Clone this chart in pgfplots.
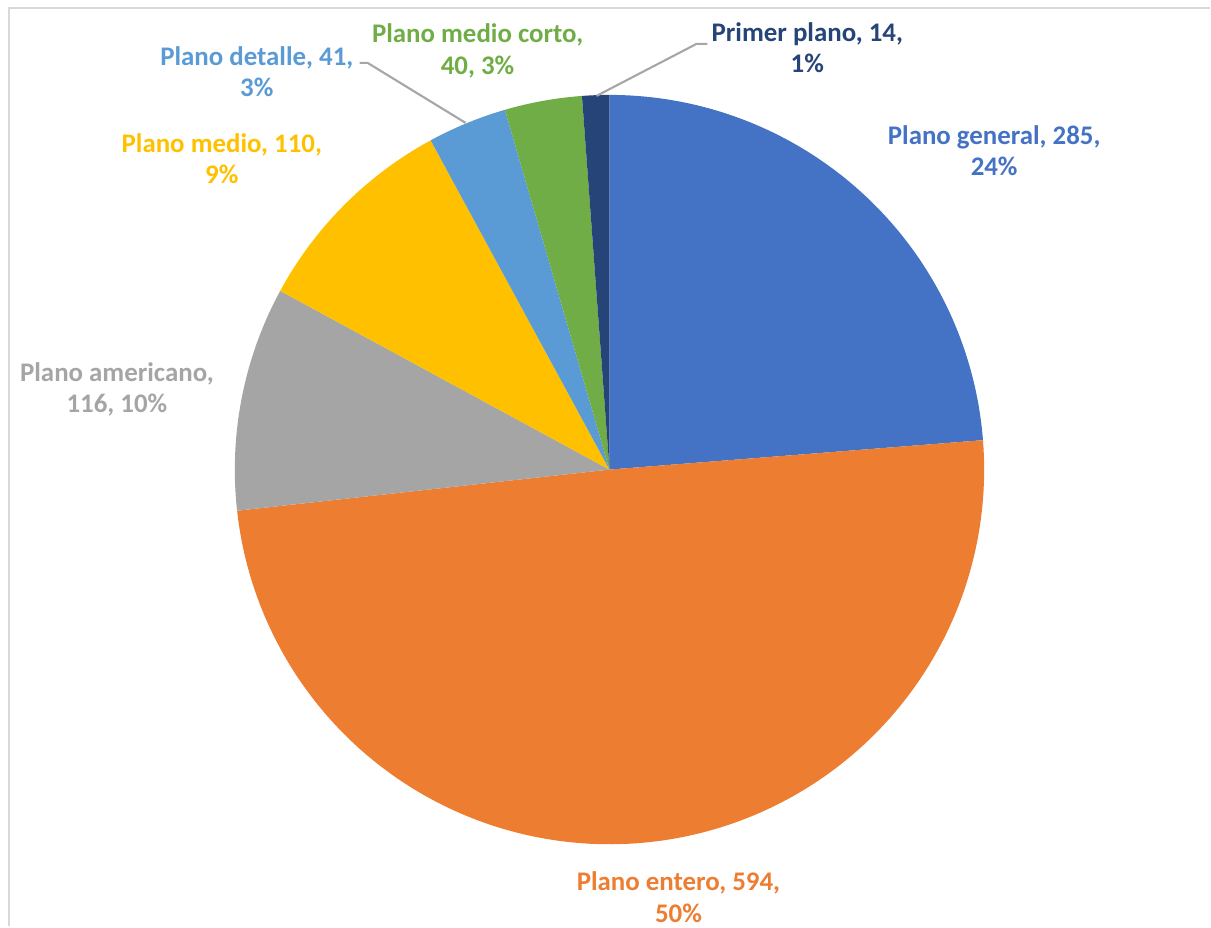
\documentclass[border=0pt]{standalone}
\usepackage{pgfplots}
\pgfplotsset{compat=1.18}
\usepackage{fontspec}
\setmainfont{Carlito}
\definecolor{cA}{HTML}{4472C4}
\definecolor{cB}{HTML}{ED7D31}
\definecolor{cC}{HTML}{A5A5A5}
\definecolor{cD}{HTML}{FFC000}
\definecolor{cE}{HTML}{5B9BD5}
\definecolor{cF}{HTML}{70AD47}
\definecolor{cG}{HTML}{264478}
\definecolor{frame}{HTML}{D9D9D9}
\definecolor{leader}{HTML}{A6A6A6}
\tikzset{lbl/.style={font=\bfseries\fontsize{7.65}{8.9}\selectfont, align=center, inner sep=0pt}}
% values
\def\vA{285}\def\vB{594}\def\vC{116}\def\vD{110}\def\vE{41}\def\vF{40}\def\vG{14}
\pgfmathsetmacro{\tot}{\vA+\vB+\vC+\vD+\vE+\vF+\vG}
\pgfmathsetmacro{\aA}{90}
\pgfmathsetmacro{\aB}{\aA-360*(\vA/\tot)}
\pgfmathsetmacro{\aC}{\aB-360*(\vB/\tot)}
\pgfmathsetmacro{\aD}{\aC-360*(\vC/\tot)}
\pgfmathsetmacro{\aE}{\aD-360*(\vD/\tot)}
\pgfmathsetmacro{\aF}{\aE-360*(\vE/\tot)}
\pgfmathsetmacro{\aG}{\aF-360*(\vF/\tot)}
\pgfmathsetmacro{\aH}{\aG-360*(\vG/\tot)}
\begin{document}
\begin{tikzpicture}
\begin{axis}[
  scale only axis, width=12.11cm, height=9.27cm,
  xmin=-1.62667, xmax=1.60267, ymin=-1.21867, ymax=1.25333,
  hide axis, clip=false,
]
\path (rel axis cs:0,0) rectangle (rel axis cs:1,1);
\draw[frame, line width=0.6pt] (axis cs:-1.6027,-1.21867) -- (axis cs:-1.6027,1.232) -- (axis cs:1.60267,1.232);
\addplot[fill=cA, draw=none, domain=\aB:\aA, samples=80, variable=\t] ({cos(\t)},{sin(\t)}) -- (axis cs:0,0) -- cycle;
\addplot[fill=cB, draw=none, domain=\aC:\aB, samples=160, variable=\t] ({cos(\t)},{sin(\t)}) -- (axis cs:0,0) -- cycle;
\addplot[fill=cC, draw=none, domain=\aD:\aC, samples=40, variable=\t] ({cos(\t)},{sin(\t)}) -- (axis cs:0,0) -- cycle;
\addplot[fill=cD, draw=none, domain=\aE:\aD, samples=40, variable=\t] ({cos(\t)},{sin(\t)}) -- (axis cs:0,0) -- cycle;
\addplot[fill=cE, draw=none, domain=\aF:\aE, samples=20, variable=\t] ({cos(\t)},{sin(\t)}) -- (axis cs:0,0) -- cycle;
\addplot[fill=cF, draw=none, domain=\aG:\aF, samples=20, variable=\t] ({cos(\t)},{sin(\t)}) -- (axis cs:0,0) -- cycle;
\addplot[fill=cG, draw=none, domain=\aH:\aG, samples=10, variable=\t] ({cos(\t)},{sin(\t)}) -- (axis cs:0,0) -- cycle;
% leader lines
\draw[leader, line width=0.6pt] (axis cs:-0.6667,1.0853) -- (axis cs:-0.6453,1.0853) -- (axis cs:-0.384,0.9253);
\draw[leader, line width=0.6pt] (axis cs:-0.0347,0.9973) -- (axis cs:0.232,1.136) -- (axis cs:0.2613,1.136);
% labels
\node[lbl, text=cA] at (axis cs:1.0267,0.852) {Plano general, 285,\\24\%};
\node[lbl, text=cB] at (axis cs:0.184,-1.1413) {Plano entero, 594,\\50\%};
\node[lbl, text=cC] at (axis cs:-1.3147,0.2133) {Plano americano,\\116, 10\%};
\node[lbl, text=cD] at (axis cs:-1.0347,0.8293) {Plano medio, 110,\\9\%};
\node[lbl, text=cE] at (axis cs:-0.9413,1.0613) {Plano detalle, 41,\\3\%};
\node[lbl, text=cF] at (axis cs:-0.352,1.1173) {Plano medio corto,\\40, 3\%};
\node[lbl, text=cG] at (axis cs:0.528,1.1267) {Primer plano, 14,\\1\%};
\end{axis}
\end{tikzpicture}
\end{document}
